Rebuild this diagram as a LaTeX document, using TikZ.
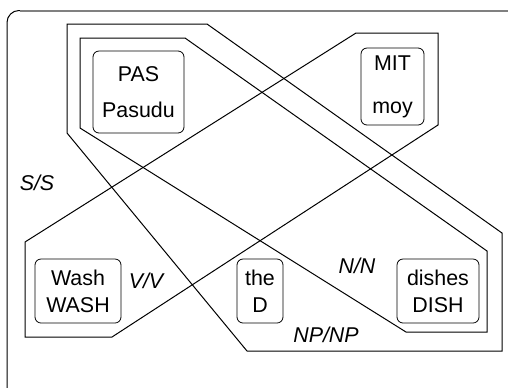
\documentclass[tikz,border=0pt]{standalone}
\usepackage{fontspec}
\setmainfont{Liberation Sans}
\begin{document}
\begin{tikzpicture}[x=0.5pt, y=-0.5pt,
    word/.style={draw, rounded corners=3pt, align=center, inner sep=0pt,
      font=\fontsize{10.7}{13.5}\selectfont},
    cat/.style={font=\fontsize{10.7}{13}\selectfont\itshape},
    region/.style={draw, line width=0.5pt, line join=miter}]
    \useasboundingbox (0,0) rectangle (508,387);
    \clip (0,0) rectangle (508,387);

    % Outer frame
    \draw[line width=0.5pt, rounded corners=6pt] (7,400) -- (7,10.5) -- (520,10.5);
    \draw[gray, line width=1pt] (20,10.5) -- (520,10.5);

    % Regions
    \draw[region] (67,24) -- (207,24) -- (502,233) -- (502,351) -- (247,351) -- (67,133) -- cycle;
    \draw[region] (80,38) -- (185,38) -- (487,251) -- (487,332) -- (406,332) -- (80,128) -- cycle;
    \draw[region] (25,242) -- (356,33) -- (438,33) -- (438,125) -- (112,337) -- (25,337) -- cycle;

    % Words
    \node[word, minimum width=45.5pt, minimum height=41pt] (pas) at (138.5,92) {PAS\\[4.5pt]Pasudu};
    \node[word, minimum width=31.5pt, minimum height=38.5pt] (mit) at (392.5,86.5) {MIT\\[8pt]moy};
    \node[word, minimum width=43pt, minimum height=32pt] (wash) at (78,291) {Wash\\WASH};
    \node[word, minimum width=23pt, minimum height=32pt] (the) at (260,291) {the\\D};
    \node[word, minimum width=41pt, minimum height=32pt] (dishes) at (438,291) {dishes\\DISH};

    % Categories
    \node[cat] (ss) at (37,183) {S/S};
    \node[cat] (vv) at (146,281) {V/V};
    \node[cat] (nn) at (357,266) {N/N};
    \node[cat] (npnp) at (326,335) {NP/NP};
  \end{tikzpicture}
\end{document}
